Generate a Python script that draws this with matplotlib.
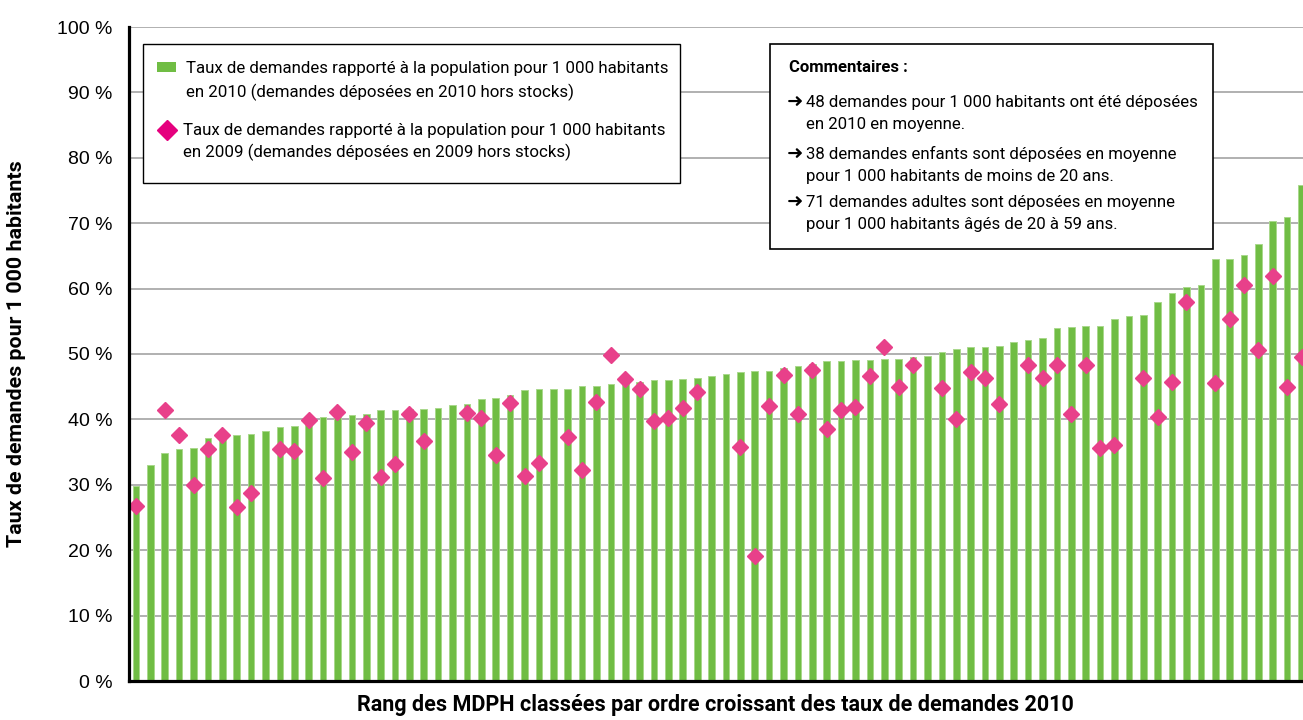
import numpy as np
import matplotlib.pyplot as plt
from matplotlib.patches import Rectangle
from matplotlib.lines import Line2D

# taux 2010 (barres) et 2009 (losanges), MDPH classées par ordre croissant
taux_2010 = [29.8, 33.0, 34.8, 35.5, 35.7, 37.1, 37.6, 37.6, 37.8, 38.2,
             38.8, 39.0, 39.3, 40.3, 40.7, 40.7, 40.9, 41.5, 41.5, 41.6,
             41.6, 41.8, 42.2, 42.4, 43.1, 43.3, 43.7, 44.5, 44.7, 44.7,
             44.7, 45.1, 45.1, 45.4, 45.7, 45.7, 46.0, 46.0, 46.2, 46.4,
             46.6, 47.0, 47.2, 47.4, 47.4, 47.9, 48.1, 48.5, 48.9, 48.9,
             49.1, 49.1, 49.3, 49.3, 49.5, 49.7, 50.3, 50.7, 51.0, 51.0,
             51.2, 51.8, 52.2, 52.4, 53.9, 54.1, 54.3, 54.3, 55.4, 55.8,
             56.0, 58.0, 59.3, 60.3, 60.6, 64.5, 64.5, 65.1, 66.8, 70.4,
             70.9, 75.8]
nan = np.nan
taux_2009 = [26.8, nan, 41.5, 37.6, 30.0, 35.5, 37.6, 26.6, 28.7, nan,
             35.5, 35.1, 39.9, 31.0, 41.2, 35.0, 39.5, 31.2, 33.2, 40.9,
             36.7, nan, nan, 41.0, 40.2, 34.6, 42.5, 31.3, 33.4, nan,
             37.3, 32.3, 42.7, 49.8, 46.2, 44.6, 39.8, 40.2, 41.7, 44.2,
             nan, nan, 35.8, 19.1, 42.1, 46.8, 40.9, 47.5, 38.6, 41.5,
             41.9, 46.6, 51.0, 45.0, 48.3, nan, 44.8, 40.1, 47.3, 46.3,
             42.3, nan, 48.3, 46.4, 48.3, 40.8, 48.3, 35.7, 36.1, nan,
             46.3, 40.4, 45.7, 58.0, nan, 45.5, 55.4, 60.6, 50.6, 62.0,
             45.0, 49.6]
yticks = [0, 10, 20, 30, 40, 50, 60, 70, 80, 90, 100]
ytick_labels = ["%d %%" % v for v in yticks]

legende = [
    ["Taux de demandes rapporté à la population pour 1 000 habitants",
     "en 2010 (demandes déposées en 2010 hors stocks)"],
    ["Taux de demandes rapporté à la population pour 1 000 habitants",
     "en 2009 (demandes déposées en 2009 hors stocks)"],
]
commentaires = [
    ["48 demandes pour 1 000 habitants ont été déposées", "en 2010 en moyenne."],
    ["38 demandes enfants sont déposées en moyenne", "pour 1 000 habitants de moins de 20 ans."],
    ["71 demandes adultes sont déposées en moyenne", "pour 1 000 habitants âgés de 20 à 59 ans."],
]

VERT = "#70bd44"
ROSE = "#e8408a"
NARROW = ["Roboto", "DejaVu Sans"]

W, H = 1303, 720
fig = plt.figure(figsize=(W / 100, H / 100), dpi=100)
ax = fig.add_axes([129 / W, 39 / H, 1174 / W, 654 / H])

x = np.arange(1, len(taux_2010) + 1)
ax.bar(x, taux_2010, width=0.46, color=VERT, edgecolor="#a9d88c", linewidth=0.7, zorder=2)
ax.plot(x, taux_2009, linestyle="none", marker="D", markersize=7.8, color=ROSE,
        markeredgecolor=ROSE, zorder=3)

ax.set_xlim(0.514, 82.1)
ax.set_ylim(0, 100)
ax.set_yticks(yticks)
ax.set_yticklabels(ytick_labels, fontsize=14, family="Liberation Sans")
ax.set_xticks([])
ax.tick_params(axis="y", length=0, pad=12)
ax.grid(axis="y", color="#a3a3a3", linewidth=1.2, zorder=0)
ax.set_axisbelow(True)
for s in ["top", "right"]:
    ax.spines[s].set_visible(False)
ax.spines["left"].set_linewidth(2.3)
ax.spines["bottom"].set_linewidth(2.3)
ax.spines["left"].set_zorder(5)
ax.spines["bottom"].set_zorder(5)


def fx(px):
    return px / W


def fy(py):
    return 1 - py / H


# axis titles
fig.text(fx(17), fy(354), "Taux de demandes pour 1 000 habitants", rotation=90,
         ha="center", va="center", fontsize=15.4, fontweight="bold", family=NARROW)
fig.text(fx(715), fy(705), "Rang des MDPH classées par ordre croissant des taux de demandes 2010",
         ha="center", va="center", fontsize=15.5, fontweight="bold", family=NARROW)

# legend box
fig.add_artist(Rectangle((fx(143), fy(183)), (680 - 143) / W, (183 - 44) / H,
                         transform=fig.transFigure, facecolor="white",
                         edgecolor="black", linewidth=1, zorder=10))
fig.add_artist(Rectangle((fx(157), fy(72)), 19 / W, 10 / H, transform=fig.transFigure,
                         facecolor=VERT, edgecolor="none", zorder=11))
fig.add_artist(Line2D([fx(167)], [fy(130)], transform=fig.transFigure, marker="D",
                      markersize=10, color="#e5007e", linestyle="none", zorder=11))
for (l1, l2), (tx, y1, y2) in zip(legende, [(186, 68, 92), (183, 130, 152)]):
    fig.text(fx(tx), fy(y1), l1, ha="left", va="center", fontsize=12.2, family=NARROW, zorder=12)
    fig.text(fx(tx), fy(y2), l2, ha="left", va="center", fontsize=12.2, family=NARROW, zorder=12)

# comment box
fig.add_artist(Rectangle((fx(770), fy(249)), (1213 - 770) / W, (249 - 44) / H,
                         transform=fig.transFigure, facecolor="white",
                         edgecolor="black", linewidth=1.2, zorder=10))
fig.text(fx(789), fy(68), "Commentaires :", ha="left", va="center", fontsize=12,
         fontweight="bold", family=NARROW, zorder=12)
for (l1, l2), (y1, y2) in zip(commentaires, [(102, 124), (154, 176), (202, 225)]):
    fig.text(fx(787), fy(y1), "➜", ha="left", va="center", fontsize=14,
             family=["DejaVu Sans"], zorder=12)
    fig.text(fx(806), fy(y1), l1, ha="left", va="center", fontsize=12.1, family=NARROW, zorder=12)
    fig.text(fx(806), fy(y2), l2, ha="left", va="center", fontsize=12.1, family=NARROW, zorder=12)

fig.savefig("out.png", dpi=100)
